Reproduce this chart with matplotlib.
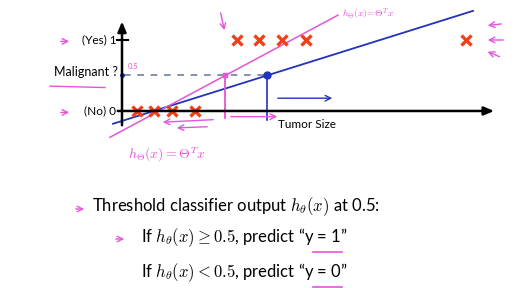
import numpy as np
import matplotlib.pyplot as plt

plt.rcParams['font.family'] = ['Lato', 'DejaVu Sans']
plt.rcParams['mathtext.fontset'] = 'cm'

# data (tumor size in arbitrary units, malignant 0/1)
benign_size = [1.5, 3.2, 5.0, 7.3]
benign_label = [0, 0, 0, 0]
malignant_size = [11.5, 13.7, 16.0, 18.4, 34.4]
malignant_label = [1, 1, 1, 1, 1]

# the two straight-line fits (with and without the far-right point)
blue_fit_x = [-0.9, 35.1]
blue_fit_y = [-0.18, 1.41]
pink_fit_x = [-1.2, 21.6]
pink_fit_y = [-0.37, 1.35]

threshold = 0.5
pink_cut = 10.3
blue_cut = 14.5

y_ticks = [0, 1]
y_tick_labels = ['(No) 0', '(Yes) 1']

RED = '#f0401a'
BLUE = '#2233bb'
PINK = '#e455d8'

W, H = 514, 288
fig = plt.figure(figsize=(W / 100, H / 100), dpi=100)
ax = fig.add_axes([0, 0, 1, 1])
# axis origin at pixel (122, 111): 10 px per size unit, 71 px per label unit
ax.set_xlim(-12.2, 39.2)
ax.set_ylim(-2.493, 1.563)
ax.axis('off')


def fx(px):
    return px / W


def fy(py):
    return 1 - py / H


arrow_kw = dict(arrowstyle='-|>,head_width=0.25,head_length=0.6', lw=1.8, color='black')
ax.annotate('', xy=(37.5, 0), xytext=(-0.7, 0), arrowprops=arrow_kw)
ax.annotate('', xy=(0, 1.3), xytext=(0, -0.24), arrowprops=arrow_kw)
ax.plot([-0.5, 0.6], [1, 1], color='black', lw=1.5)

for t, lab in zip(y_ticks, y_tick_labels):
    ax.text(-0.55, t, lab, ha='right', va='center', fontsize=8.5)
ax.text(-0.45, threshold + 0.05, 'Malignant ?', ha='right', va='center', fontsize=9)
ax.text(15.6, -0.19, 'Tumor Size', ha='left', va='center', fontsize=8.5)

# threshold dashed line
ax.plot([0.2, blue_cut], [threshold, threshold], color='#7080a0', lw=1.2,
        dashes=(4, 4))
ax.plot([0], [threshold], 'o', color=BLUE, ms=2.5)

# fits
ax.plot(blue_fit_x, blue_fit_y, color=BLUE, lw=1.3)
ax.plot(pink_fit_x, pink_fit_y, color=PINK, lw=1.1)

# data points
ax.plot(benign_size, benign_label, 'x', color=RED, ms=7, mew=2.4)
ax.plot(malignant_size, malignant_label, 'x', color=RED, ms=7, mew=2.4)

# cut points
ax.plot([blue_cut, blue_cut], [threshold, -0.13], color=BLUE, lw=1.2)
ax.plot([blue_cut], [threshold], 'o', color=BLUE, ms=5)
ax.plot([pink_cut, pink_cut], [threshold, -0.1], color=PINK, lw=1.3)
ax.plot([pink_cut], [threshold], 's', color=PINK, ms=3)

# hand-drawn annotations
pk = dict(arrowstyle='->,head_width=0.2,head_length=0.4', color=PINK, lw=1.0)
bk = dict(arrowstyle='->,head_width=0.2,head_length=0.4', color=BLUE, lw=1.0)
ax.annotate('', xy=(15.8, -0.08), xytext=(10.6, -0.08), arrowprops=pk)
ax.annotate('', xy=(21.3, 0.18), xytext=(15.3, 0.18), arrowprops=bk)
ax.annotate('', xy=(3.8, -0.16), xytext=(9.4, -0.12), arrowprops=pk)
ax.annotate('', xy=(5.2, -0.24), xytext=(8.8, -0.22), arrowprops=pk)
ax.annotate('', xy=(10.3, 1.1), xytext=(9.8, 1.42), arrowprops=pk)
ax.annotate('', xy=(36.3, 1.2), xytext=(38.2, 1.23), arrowprops=pk)
ax.annotate('', xy=(36.3, 1.0), xytext=(38.4, 1.0), arrowprops=pk)
ax.annotate('', xy=(36.3, 0.85), xytext=(38.0, 0.75), arrowprops=pk)
for y0 in [1.0, 0.0]:
    ax.annotate('', xy=(-5.0, y0 - 0.02), xytext=(-6.4, y0 - 0.02), arrowprops=pk)
ax.plot([-7.2, -1.7], [0.35, 0.33], color=PINK, lw=1.0)
ax.text(0.6, threshold + 0.12, '0.5', color=PINK, fontsize=5.5, ha='left', va='center')
ax.text(22.0, 1.36, r'$h_{\Theta}(x)\!=\!\Theta^T x$', color=PINK, fontsize=7,
        ha='left', va='center')
ax.text(0.6, -0.62, r'$h_{\Theta}(x) = \Theta^T x$', color=PINK, fontsize=10,
        ha='left', va='center')

# text below the chart
fig.text(fx(92), fy(207), r'Threshold classifier output $h_\theta(x)$ at 0.5:',
         fontsize=12, va='center', ha='left')
fig.text(fx(141), fy(238), r'If $h_\theta(x) \geq 0.5$, predict “y = 1”',
         fontsize=12, va='center', ha='left')
fig.text(fx(141), fy(273), r'If $h_\theta(x) < 0.5$, predict “y = 0”',
         fontsize=12, va='center', ha='left')
for x0, y0 in [(73, 209), (113, 239)]:
    ax.annotate('', xy=(fx(x0 + 14), fy(y0)), xytext=(fx(x0), fy(y0)),
                xycoords='figure fraction', arrowprops=pk)
for y0 in [252, 287]:
    ax.plot([fx(313), fx(342)], [fy(y0), fy(y0)], transform=fig.transFigure,
            color=PINK, lw=1.2)

fig.savefig('out.png', dpi=100)
